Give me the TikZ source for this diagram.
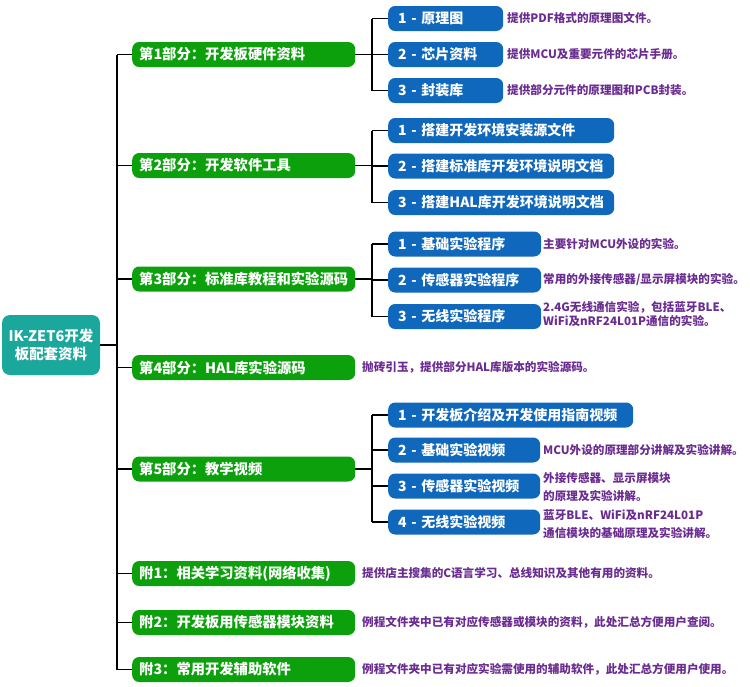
\documentclass[tikz,border=0pt]{standalone}
\usepackage{fontspec}
\setmainfont{Noto Sans CJK SC}
\definecolor{gfill}{HTML}{0CA10C}
\definecolor{bfill}{HTML}{0F68BC}
\definecolor{rfill}{HTML}{1AA89C}
\definecolor{dtext}{HTML}{6B2C91}
\begin{document}
\begin{tikzpicture}[x=1pt,y=-1pt,
  conn/.style={line width=1.4pt, black},
  rootbox/.style={fill=rfill, rounded corners=8pt, text=white, font=\bfseries\fontsize{14.5}{18.3}\selectfont, align=center, minimum width=98pt, minimum height=60pt, inner sep=0pt},
  gbox/.style={fill=gfill, rounded corners=7pt, text=white, font=\bfseries\fontsize{14.3}{16}\selectfont, anchor=west, inner xsep=7pt, inner ysep=0pt, minimum height=25pt, text width=209pt, align=left},
  bbox/.style={fill=bfill, rounded corners=7pt, text=white, font=\bfseries\fontsize{14}{16}\selectfont, anchor=west, inner xsep=10pt, inner ysep=0pt, minimum height=25pt, text width=#1, align=left},
  desc/.style={text=dtext, font=\bfseries\fontsize{11.6}{#1}\selectfont, anchor=west, inner sep=0pt, align=left},
  desc/.default=14pt
]
\useasboundingbox (0,0) rectangle (750,686);
\coordinate (trunk) at (117,0);
\coordinate (brk) at (372,0);

\node[rootbox] (root) at (51,345) {IK-ZET6开发\\板配套资料};

\node[gbox] (g1) at (132,54.5) {第1部分：开发板硬件资料};
\node[gbox] (g2) at (132,165.5) {第2部分：开发软件工具};
\node[gbox] (g3) at (132,279) {第3部分：标准库教程和实验源码};
\node[gbox] (g4) at (132,367.5) {第4部分：HAL库实验源码};
\node[gbox] (g5) at (132,469) {第5部分：教学视频};
\node[gbox] (a1) at (132,573.5) {附1：相关学习资料(网络收集)};
\node[gbox] (a2) at (132,622.5) {附2：开发板用传感器模块资料};
\node[gbox] (a3) at (132,669.5) {附3：常用开发辅助软件};

\node[bbox=95pt] (b11) at (388,18.5) {\mbox{1 - 原理图}};
\node[bbox=95pt] (b12) at (388,54.5) {\mbox{2 - 芯片资料}};
\node[bbox=95pt] (b13) at (388,90.5) {\mbox{3 - 封装库}};

\node[bbox=206pt] (b21) at (388,130.5) {\mbox{1 - 搭建开发环境安装源文件}};
\node[bbox=206pt] (b22) at (388,166) {\mbox{2 - 搭建标准库开发环境说明文档}};
\node[bbox=206pt] (b23) at (388,202.5) {\mbox{3 - 搭建HAL库开发环境说明文档}};

\node[bbox=133pt] (b31) at (388,244) {\mbox{1 - 基础实验程序}};
\node[bbox=133pt] (b32) at (388,280) {\mbox{2 - 传感器实验程序}};
\node[bbox=133pt] (b33) at (388,316.5) {\mbox{3 - 无线实验程序}};

\node[bbox=225pt] (b51) at (388,415) {\mbox{1 - 开发板介绍及开发使用指南视频}};
\node[bbox=132pt] (b52) at (388,450) {\mbox{2 - 基础实验视频}};
\node[bbox=132pt] (b53) at (388,486) {\mbox{3 - 传感器实验视频}};
\node[bbox=132pt] (b54) at (388,522) {\mbox{4 - 无线实验视频}};

\node[desc] (d11) at (507,18) {提供PDF格式的原理图文件。};
\node[desc] (d12) at (507,54.5) {提供MCU及重要元件的芯片手册。};
\node[desc] (d13) at (507,90.5) {提供部分元件的原理图和PCB封装。};
\node[desc] (d31) at (543,244) {主要针对MCU外设的实验。};
\node[desc] (d32) at (543,280) {常用的外接传感器/显示屏模块的实验。};
\node[desc=13.8pt] (d33) at (543,314) {2.4G无线通信实验，包括蓝牙BLE、\\WiFi及nRF24L01P通信的实验。};
\node[desc] (d4) at (362,367.5) {抛砖引玉，提供部分HAL库版本的实验源码。};
\node[desc] (d52) at (543,450) {MCU外设的原理部分讲解及实验讲解。};
\node[desc=18pt] (d53) at (543,487) {外接传感器、显示屏模块\\的原理及实验讲解。};
\node[desc=18pt] (d54) at (543,524) {蓝牙BLE、WiFi及nRF24L01P\\通信模块的基础原理及实验讲解。};
\node[desc] (da1) at (362,573.5) {提供店主搜集的C语言学习、总线知识及其他有用的资料。};
\node[desc] (da2) at (362,622.5) {例程文件夹中已有对应传感器或模块的资料，此处汇总方便用户查阅。};
\node[desc] (da3) at (362,669.5) {例程文件夹中已有对应实验需使用的辅助软件，此处汇总方便用户使用。};

% trunk
\draw[conn] (root.east) -- (root.east -| trunk);
\draw[conn] (g1.west -| trunk) -- (a3.west -| trunk);
\foreach \n in {g1,g2,g3,g4,g5,a1,a2,a3} \draw[conn] (\n.west -| trunk) -- (\n.west);

% brackets
\foreach \g/\first/\last/\list in {g1/b11/b13/{b11,b12,b13}, g2/b21/b23/{b21,b22,b23}, g3/b31/b33/{b31,b32,b33}, g5/b51/b54/{b51,b52,b53,b54}} {
  \draw[conn] (\g.east) -- (\g.east -| brk);
  \draw[conn] (\first.west -| brk) -- (\last.west -| brk);
  \foreach \n in \list \draw[conn] (\n.west -| brk) -- (\n.west);
}
\end{tikzpicture}
\end{document}
